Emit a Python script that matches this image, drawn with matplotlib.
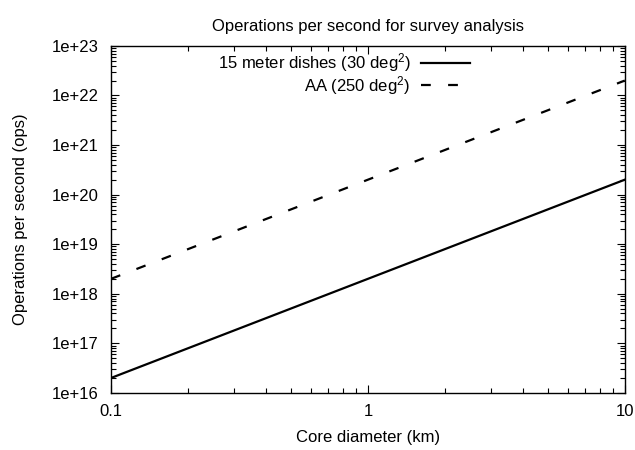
import numpy as np
import matplotlib.pyplot as plt
from matplotlib.ticker import LogLocator, NullFormatter, FixedLocator

plt.rcParams['font.family'] = ['Liberation Sans', 'DejaVu Sans']
plt.rcParams['mathtext.fontset'] = 'custom'
plt.rcParams['mathtext.rm'] = 'Liberation Sans'
plt.rcParams['mathtext.it'] = 'Liberation Sans'

# core diameter (km) and operations per second
diameter = [0.1, 1, 10]
ops_dishes = [2e16, 2e18, 2e20]
ops_aa = [2e18, 2e20, 2e22]

x_ticks = [0.1, 1, 10]
x_labels = ['0.1', '1', '10']
y_ticks = [1e16, 1e17, 1e18, 1e19, 1e20, 1e21, 1e22, 1e23]
y_labels = ['1e+16', '1e+17', '1e+18', '1e+19', '1e+20', '1e+21', '1e+22', '1e+23']

fs = 12

fig = plt.figure(figsize=(6.35, 4.5), dpi=100)
ax = fig.add_axes([0.175, 0.127, 0.809, 0.771])

ax.plot(diameter, ops_dishes, color='black', lw=1.6, label='15 meter dishes (30 deg$^2$)')
ax.plot(diameter, ops_aa, color='black', lw=1.6, dashes=(4.4, 7.8), label='AA (250 deg$^2$)')

ax.set_xscale('log')
ax.set_yscale('log')
ax.set_xlim(0.1, 10)
ax.set_ylim(1e16, 1e23)

ax.xaxis.set_major_locator(FixedLocator(x_ticks))
ax.set_xticklabels(x_labels)
ax.yaxis.set_major_locator(FixedLocator(y_ticks))
ax.set_yticklabels(y_labels)
ax.xaxis.set_minor_locator(LogLocator(base=10, subs=np.arange(2, 10)))
ax.yaxis.set_minor_locator(LogLocator(base=10, subs=np.arange(2, 10)))
ax.xaxis.set_minor_formatter(NullFormatter())
ax.yaxis.set_minor_formatter(NullFormatter())

ax.tick_params(which='both', direction='in', top=True, right=True, labelsize=fs, color='black')
ax.tick_params(which='major', length=6, width=0.8)
ax.tick_params(axis='y', which='major', pad=9)
ax.tick_params(axis='x', which='major', pad=8)
ax.tick_params(which='minor', length=3.5, width=0.8)
for s in ax.spines.values():
    s.set_linewidth(1.0)

ax.set_title('Operations per second for survey analysis', fontsize=fs, pad=11)
ax.set_xlabel('Core diameter (km)', fontsize=fs, labelpad=8)
ax.set_ylabel('Operations per second (ops)', fontsize=fs, labelpad=17)

leg = ax.legend(loc='upper right', bbox_to_anchor=(0.698, 0.985), frameon=False,
                markerfirst=False, fontsize=fs, handlelength=2.95, handletextpad=0.6,
                labelspacing=0.0, borderaxespad=0, borderpad=0)
for t in leg.get_texts():
    t.set_ha('right')

fig.savefig('out.png', dpi=100)
